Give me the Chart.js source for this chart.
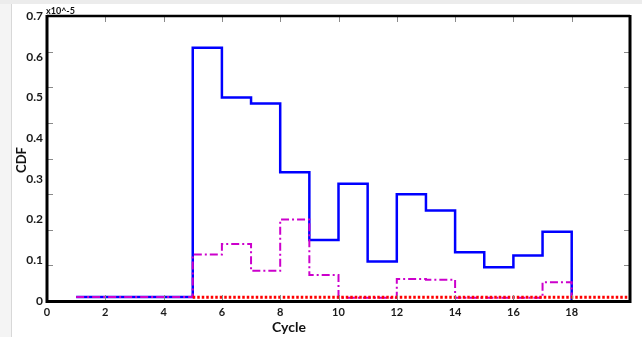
<!DOCTYPE html>
<html>
<head>
<meta charset="utf-8">
<script src="https://cdn.jsdelivr.net/npm/chart.js@4/dist/chart.umd.min.js"></script>
<style>
html,body{margin:0;padding:0;background:#fff;}
canvas{display:block;}
</style>
</head>
<body>
<canvas id="c" width="642" height="337"></canvas>
<script>
// ---- data (values in units of 1e-5) ----
const blueCycles = [1, 5, 6, 7, 8, 9, 10, 11, 12, 13, 14, 15, 16, 17, 18];
const blueCDF    = [0.01, 0.622, 0.50, 0.485, 0.316, 0.150, 0.288, 0.097, 0.262, 0.222, 0.120, 0.083, 0.112, 0.170, 0];

const magentaCycles = [1, 5, 6, 7, 8, 9, 10, 12, 13, 14, 17, 18];
const magentaCDF    = [0.01, 0.114, 0.140, 0.074, 0.200, 0.064, 0.008, 0.054, 0.052, 0.008, 0.046, 0.008];

const redCycles = [5, 20];
const redCDF    = [0.009, 0.009];

const yTickValues = [0, 0.1, 0.2, 0.3, 0.4, 0.5, 0.6, 0.7];
const xTickValues = [0, 2, 4, 6, 8, 10, 12, 14, 16, 18];
const sideTickValues = [1, 2, 3, 4, 5, 6, 7];   // minor marks on left/right frame (secondary scale)

const xTitle = 'Cycle';
const yTitle = 'CDF';
const yExponent = 'x10^-5';

function pts(xs, ys){ return xs.map((x,i)=>({x:x, y:ys[i]})); }

const FONT = 'Lato, "Liberation Sans", sans-serif';

const framePlugin = {
  id: 'frame',
  beforeDraw(chart){
    const ctx = chart.ctx;
    ctx.save();
    ctx.fillStyle = '#ffffff';
    ctx.fillRect(0,0,chart.width,chart.height);
    ctx.fillStyle = '#ececec';
    ctx.fillRect(0,0,chart.width,4);
    ctx.fillStyle = '#f4f4f4';
    ctx.fillRect(0,4,11,chart.height-4);
    ctx.fillStyle = '#d8d8d8';
    ctx.fillRect(11,4,1,chart.height-4);
    ctx.restore();
  },
  afterDatasetsDraw(chart){
    const ctx = chart.ctx;
    const a = chart.chartArea;
    const xs = chart.scales.x, y2 = chart.scales.y2;
    ctx.save();
    // inward ticks
    ctx.strokeStyle = '#8a8a8a';
    ctx.lineWidth = 1;
    ctx.beginPath();
    xTickValues.forEach(v=>{
      if (v === 0) return;
      const px = Math.round(xs.getPixelForValue(v)) + 0.5;
      ctx.moveTo(px, a.top); ctx.lineTo(px, a.top+6);
      ctx.moveTo(px, a.bottom); ctx.lineTo(px, a.bottom-6);
    });
    sideTickValues.forEach(v=>{
      const py = Math.round(y2.getPixelForValue(v)) + 0.5;
      ctx.moveTo(a.left, py); ctx.lineTo(a.left+6, py);
      ctx.moveTo(a.right, py); ctx.lineTo(a.right-6, py);
    });
    ctx.stroke();
    // frame
    ctx.strokeStyle = '#000';
    ctx.lineWidth = 2.5;
    ctx.beginPath();
    ctx.moveTo(a.left, a.top); ctx.lineTo(a.right, a.top);
    ctx.stroke();
    ctx.lineWidth = 3;
    ctx.beginPath();
    ctx.moveTo(a.right, a.top-1); ctx.lineTo(a.right, a.bottom);
    ctx.moveTo(a.left, a.top-1); ctx.lineTo(a.left, a.bottom);
    ctx.moveTo(a.left-1.5, a.bottom+0.5); ctx.lineTo(a.right+1.5, a.bottom+0.5);
    ctx.stroke();
    // titles
    ctx.fillStyle = '#111';
    ctx.font = 'bold 14px ' + FONT;
    ctx.textAlign = 'center';
    ctx.textBaseline = 'middle';
    ctx.fillText(xTitle, xs.getPixelForValue(8.3), 327);
    ctx.save();
    ctx.translate(22, 160);
    ctx.rotate(-Math.PI/2);
    ctx.font = 'bold 13px ' + FONT;
    ctx.fillText(yTitle, 0, 0);
    ctx.restore();
    ctx.font = 'bold 9px ' + FONT;
    ctx.textAlign = 'left';
    ctx.textBaseline = 'alphabetic';
    ctx.fillText(yExponent, a.left - 1, 14);
    ctx.restore();
  }
};

new Chart(document.getElementById('c'), {
  type: 'scatter',
  data: {
    datasets: [
      { data: pts(redCycles, redCDF), showLine: true, borderColor: 'rgb(255,0,0)', borderWidth: 3,
        borderDash: [2.5, 2], pointRadius: 0, stepped: true, fill: false },
      { data: pts(magentaCycles, magentaCDF), showLine: true, borderColor: 'rgb(204,0,204)', borderWidth: 2,
        borderDash: [8, 3, 2, 3], pointRadius: 0, stepped: true, fill: false },
      { data: pts(blueCycles, blueCDF), showLine: true, borderColor: 'rgb(0,0,255)', borderWidth: 2.5,
        pointRadius: 0, stepped: true, fill: false }
    ]
  },
  options: {
    responsive: false,
    animation: false,
    events: [],
    layout: { padding: { left: 0, right: 12, top: 16, bottom: 0 } },
    plugins: { legend: { display: false }, tooltip: { enabled: false } },
    scales: {
      x: {
        type: 'linear', min: 0, max: 20,
        afterFit(s){ s.height = 36; },
        afterBuildTicks(s){ s.ticks = xTickValues.map(v=>({value:v})); },
        grid: { display: false, drawTicks: false },
        border: { display: false },
        ticks: { padding: 5, color: '#1a1a1a', font: { family: FONT, size: 11, weight: 'bold' },
                 maxRotation: 0, autoSkip: false }
      },
      y: {
        type: 'linear', min: 0, max: 0.7,
        afterFit(s){ s.width = 47; },
        afterBuildTicks(s){ s.ticks = yTickValues.map(v=>({value:v})); },
        grid: { display: false, drawTicks: false },
        border: { display: false },
        ticks: { padding: 4, color: '#1a1a1a', font: { family: FONT, size: 12, weight: 'bold' },
                 callback: v => (v === 0 ? '0' : v.toFixed(1)) }
      },
      y2: {
        type: 'linear', min: 0, max: 8, display: false, position: 'right'
      }
    }
  },
  plugins: [framePlugin]
});
</script>
</body>
</html>
